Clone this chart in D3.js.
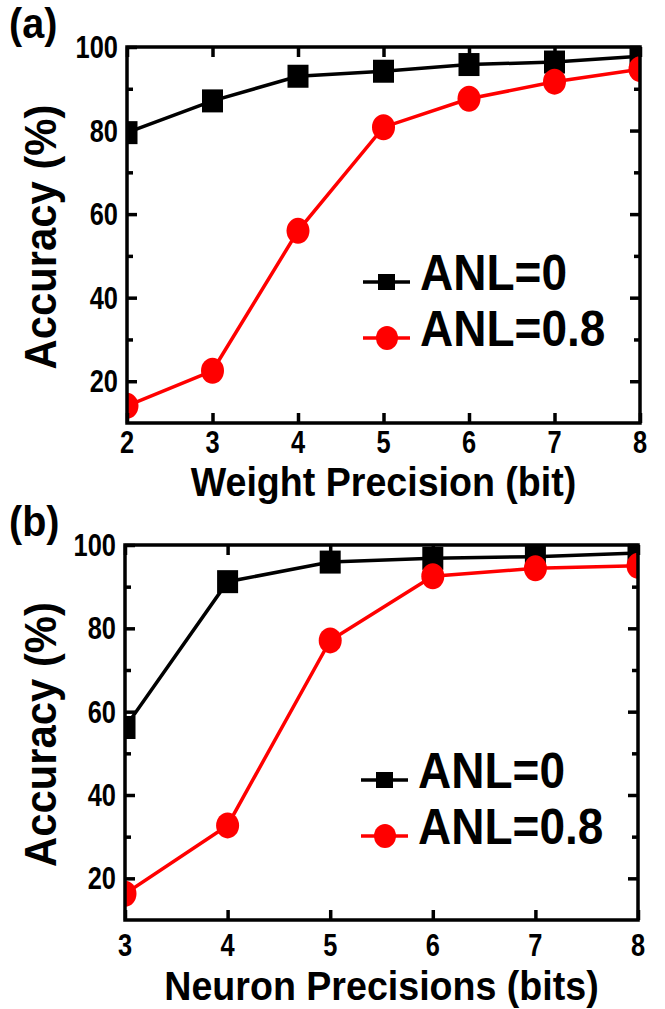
<!DOCTYPE html>
<html>
<head>
<meta charset="utf-8">
<script src="https://cdn.jsdelivr.net/npm/d3@7"></script>
<style>
  body{margin:0;background:#fff}
  text{font-family:"Liberation Sans",Arial,sans-serif;font-weight:bold}
</style>
</head>
<body>
<div id="Chart"></div>
<script>
// data
const weightBits = [2,3,4,5,6,7,8]
const weightAnl0 = [79.5,87.1,93,94.2,95.8,96.4,97.8]
const weightAnl08 = [14.1,22.5,56,80.8,87.6,91.7,94.7]
const neuronBits = [3,4,5,6,7,8]
const neuronAnl0 = [56.2,91.2,95.9,96.8,97.2,98.1]
const neuronAnl08 = [16.3,32.7,77.1,92.5,94.4,95]
const yTicks = [20,40,60,80,100]
const yMinor = [30,50,70,90]
const seriesNames = ["ANL=0","ANL=0.8"]

const W=665,H=1009
var svg = d3.select("#Chart").append("svg")
  .attr("width",W).attr("height",H)

// bold text squeezed a bit sideways, like the source figure
function label(sel,x,y,size,sx,anchor,str,rot){
  return sel.append("text")
    .attr("transform",`translate(${x},${y})${rot?"rotate(-90)":""}scale(${sx},1)`)
    .attr("text-anchor",anchor).attr("font-size",size).text(str)
}

var panels=[
  {id:"a",tag:"(a)",x:weightBits,s0:weightAnl0,s1:weightAnl08,
   left:127,right:640,top:47,bottom:423,title:"Weight Precision (bit)",tickY:453,titleY:496},
  {id:"b",tag:"(b)",x:neuronBits,s0:neuronAnl0,s1:neuronAnl08,
   left:125,right:638,top:545,bottom:920,title:"Neuron Precisions (bits)",tickY:956,titleY:1000}
]

panels.forEach(p=>{
  var X=d3.scaleLinear().domain(d3.extent(p.x)).range([p.left,p.right])
  var Y=d3.scaleLinear().domain([10,100]).range([p.bottom,p.top])
  var g=svg.append("g")

  label(g,9,p.top-9,43,0.92,"start",p.tag)

  g.append("clipPath").attr("id","clip"+p.id)
    .append("rect").attr("x",p.left).attr("y",p.top)
    .attr("width",p.right-p.left).attr("height",p.bottom-p.top)

  var plot=g.append("g").attr("clip-path",`url(#clip${p.id})`)
  var line=d3.line().x((d,i)=>X(p.x[i])).y(d=>Y(d))

  plot.append("path").datum(p.s0).attr("d",line)
    .attr("fill","none").attr("stroke","#000").attr("stroke-width",3.5)
  plot.append("path").datum(p.s1).attr("d",line)
    .attr("fill","none").attr("stroke","#f00").attr("stroke-width",3.5)

  plot.selectAll(".sq").data(p.s0).enter().append("rect")
    .attr("x",(d,i)=>X(p.x[i])-10.5).attr("y",d=>Y(d)-11.5)
    .attr("width",21).attr("height",23).attr("fill","#000")
  plot.selectAll(".ci").data(p.s1).enter().append("ellipse")
    .attr("cx",(d,i)=>X(p.x[i])).attr("cy",d=>Y(d))
    .attr("rx",11.5).attr("ry",13).attr("fill","#f00")

  // axes, ticks pointing inward
  g.append("g").attr("transform",`translate(0,${p.bottom})`)
    .call(d3.axisBottom(X).tickValues(p.x).tickSize(-10).tickFormat(""))
  g.append("g").attr("transform",`translate(0,${p.top})`)
    .call(d3.axisTop(X).tickValues(p.x).tickSize(-10).tickFormat(""))
  g.append("g").attr("transform",`translate(${p.left},0)`)
    .call(d3.axisLeft(Y).tickValues(yTicks).tickSize(-10).tickFormat(""))
  g.append("g").attr("transform",`translate(${p.right},0)`)
    .call(d3.axisRight(Y).tickValues(yTicks).tickSize(-10).tickFormat(""))
  g.append("g").attr("transform",`translate(${p.left},0)`)
    .call(d3.axisLeft(Y).tickValues(yMinor).tickSize(-6).tickFormat(""))
  g.append("g").attr("transform",`translate(${p.right},0)`)
    .call(d3.axisRight(Y).tickValues(yMinor).tickSize(-6).tickFormat(""))
  g.selectAll(".domain").remove()
  g.selectAll(".tick line").attr("stroke","#000").attr("stroke-width",3.5)

  g.append("rect").attr("x",p.left).attr("y",p.top)
    .attr("width",p.right-p.left).attr("height",p.bottom-p.top)
    .attr("fill","none").attr("stroke","#000").attr("stroke-width",3.5)

  // tick labels
  p.x.forEach(d=>label(g,X(d),p.tickY,31,0.82,"middle",d))
  yTicks.forEach(d=>label(g,p.left-9,Y(d)+11,31,0.82,"end",d))

  label(g,(p.left+p.right)/2,p.titleY,40,0.94,"middle",p.title)
  label(g,56,(p.top+p.bottom)/2+2,44,0.95,"middle","Accuracy (%)",true)

  // legend
  var lx=p.left+236, ly=p.top+235
  var leg=g.append("g")
  ;[0,1].forEach(k=>{
    var yy=ly+k*56, col=k?"#f00":"#000"
    leg.append("line").attr("x1",lx).attr("x2",lx+47).attr("y1",yy).attr("y2",yy)
      .attr("stroke",col).attr("stroke-width",3.5)
    if(k) leg.append("ellipse").attr("cx",lx+24).attr("cy",yy).attr("rx",11).attr("ry",12).attr("fill",col)
    else leg.append("rect").attr("x",lx+15).attr("y",yy-8).attr("width",17).attr("height",16).attr("fill",col)
    label(leg,lx+57,yy+8,50,0.92,"start",seriesNames[k])
  })
})
</script>
</body>
</html>
